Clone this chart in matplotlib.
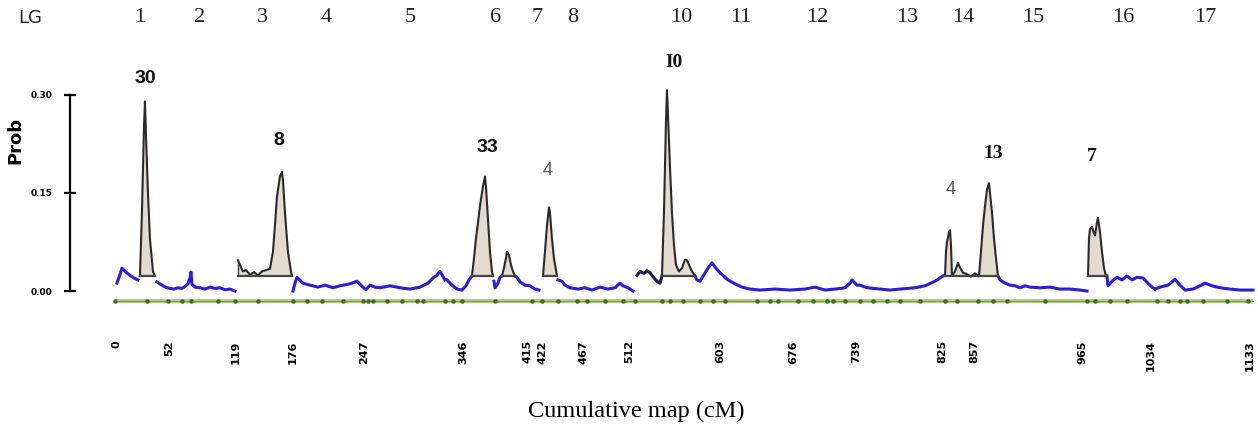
import numpy as np
import matplotlib.pyplot as plt
import matplotlib.transforms as mtransforms

# linkage group labels along the top (centre of each group, cM)
lg_names = ["1", "2", "3", "4", "5", "6", "7", "8", "10", "11", "12", "13", "14", "15", "16", "17"]
lg_cm = [23, 83, 145, 209, 293, 379, 420, 456, 564, 624, 700, 790, 846, 916, 1006, 1088]

# cumulative map tick labels
map_ticks = [0, 52, 119, 176, 247, 346, 415, 422, 467, 512, 603, 676, 739, 825, 857, 965, 1034, 1133]

# marker positions on the map line
markers_cm = [-2, 30, 51, 65, 74, 101, 118, 141, 176, 190, 205, 226, 246, 251, 256, 270, 285,
              300, 306, 328, 336, 345, 378, 415, 425, 441, 460, 470, 488, 506, 518, 545, 553,
              566, 583, 596, 608, 640, 653, 661, 681, 696, 710, 716, 728, 743, 756, 770, 783,
              803, 828, 840, 861, 876, 890, 928, 970, 978, 993, 1010, 1040, 1051, 1063, 1070,
              1086, 1110, 1131]

# background probability profile (blue), one stretch per piece
blue_x = [
    [0, 3, 5, 9, 13, 17, 21],
    [40, 43, 46, 50, 53, 57, 61, 65, 68, 71, 73, 74, 75, 78, 83, 88, 93, 98, 103, 108, 113, 118],
    [176, 178, 180, 186, 193, 201, 208, 216, 223, 233, 240, 246, 249, 253, 258, 263, 273, 283,
     293, 303, 311, 316, 320, 323, 325, 328],
    [330, 335, 340, 345, 349, 352, 355],
    [377, 378, 381, 383, 385],
    [398, 400, 403, 408, 413, 418, 422],
    [441, 445, 448, 453, 461, 468, 475, 483, 491, 498, 503, 506, 511, 516],
    [578, 580, 583, 587, 591, 595, 599, 603, 606, 608],
    [608, 611, 618, 625, 633, 643, 658, 673, 688, 698, 708, 718, 728, 733, 735, 740, 743, 750,
     763, 773, 783, 798, 808, 818, 823, 826],
    [881, 883, 888, 893, 898, 903, 908, 913, 923, 933, 943, 953, 963, 970],
    [990, 991, 995, 1000, 1005, 1010, 1015, 1020, 1026, 1031, 1035, 1038],
    [1038, 1043, 1051, 1058, 1063, 1068, 1076, 1083, 1088, 1095, 1103, 1113, 1123, 1136],
]
blue_y = [
    [0.012, 0.025, 0.035, 0.029, 0.024, 0.020, 0.017],
    [0.014, 0.011, 0.008, 0.005, 0.004, 0.003, 0.005, 0.004, 0.007, 0.011, 0.020, 0.029, 0.010,
     0.006, 0.005, 0.003, 0.006, 0.004, 0.005, 0.002, 0.003, 0.0],
    [0.0, 0.012, 0.021, 0.012, 0.009, 0.006, 0.009, 0.005, 0.008, 0.011, 0.015, 0.006, 0.002,
     0.009, 0.006, 0.005, 0.008, 0.005, 0.003, 0.006, 0.012, 0.020, 0.024, 0.030, 0.025, 0.017],
    [0.017, 0.009, 0.003, 0.0015, 0.008, 0.017, 0.023],
    [0.015, 0.005, 0.012, 0.021, 0.023],
    [0.023, 0.021, 0.014, 0.009, 0.008, 0.003, 0.0015],
    [0.017, 0.015, 0.009, 0.005, 0.003, 0.005, 0.0015, 0.006, 0.003, 0.005, 0.012, 0.008, 0.005, 0.0],
    [0.023, 0.017, 0.015, 0.025, 0.035, 0.043, 0.035, 0.028, 0.024, 0.021],
    [0.021, 0.017, 0.011, 0.006, 0.003, 0.0015, 0.003, 0.0015, 0.003, 0.006, 0.0015, 0.003,
     0.005, 0.012, 0.017, 0.009, 0.009, 0.005, 0.003, 0.0015, 0.003, 0.005, 0.008, 0.015,
     0.020, 0.023],
    [0.023, 0.017, 0.012, 0.009, 0.008, 0.005, 0.008, 0.006, 0.005, 0.006, 0.003, 0.003, 0.0015, 0.0],
    [0.023, 0.008, 0.015, 0.021, 0.017, 0.023, 0.017, 0.021, 0.020, 0.012, 0.006, 0.003],
    [0.003, 0.006, 0.009, 0.018, 0.009, 0.0015, 0.003, 0.008, 0.012, 0.008, 0.005, 0.003,
     0.0015, 0.0015],
]

# dark unfilled stretch at the start of LG10
dark_x = [520, 523, 527, 530, 533, 536, 540, 543, 545]
dark_y = [0.024, 0.030, 0.027, 0.031, 0.028, 0.022, 0.015, 0.012, 0.023]

# significant regions (shaded peaks)
peak_x = [
    [23, 25, 27, 28, 29, 31, 33, 36, 38],
    [121, 123, 126, 129, 133, 137, 141, 145, 149, 153, 156, 158, 160, 163, 165, 166, 168, 171, 174, 175],
    [355, 357, 359, 361, 363, 366, 368, 369, 371, 373, 375, 376],
    [385, 387, 389, 390, 392, 394, 396, 398],
    [426, 428, 430, 432, 433, 435, 437, 440],
    [545, 547, 549, 550, 551, 553, 555, 557, 559, 562, 565, 568, 570, 572, 575, 578],
    [828, 829, 830, 832, 833, 834, 835, 838, 841, 843, 846, 850, 854, 858, 861],
    [862, 864, 866, 868, 870, 872, 873, 875, 877, 879, 881],
    [971, 972, 973, 975, 977, 978, 980, 981, 983, 985, 987, 989],
]
peak_y = [
    [0.023, 0.12, 0.25, 0.29, 0.24, 0.15, 0.08, 0.03, 0.023],
    [0.047, 0.040, 0.030, 0.032, 0.025, 0.029, 0.024, 0.030, 0.032, 0.034, 0.06, 0.10, 0.144,
     0.175, 0.182, 0.17, 0.12, 0.06, 0.03, 0.023],
    [0.023, 0.05, 0.08, 0.104, 0.13, 0.16, 0.175, 0.16, 0.11, 0.06, 0.03, 0.023],
    [0.023, 0.035, 0.05, 0.06, 0.055, 0.04, 0.03, 0.023],
    [0.023, 0.06, 0.10, 0.128, 0.12, 0.08, 0.05, 0.023],
    [0.023, 0.12, 0.26, 0.307, 0.27, 0.19, 0.12, 0.07, 0.04, 0.03, 0.035, 0.048, 0.047, 0.04,
     0.03, 0.023],
    [0.023, 0.06, 0.075, 0.09, 0.093, 0.07, 0.023, 0.03, 0.043, 0.036, 0.028, 0.026, 0.022,
     0.027, 0.023],
    [0.023, 0.06, 0.10, 0.13, 0.155, 0.165, 0.15, 0.12, 0.08, 0.05, 0.023],
    [0.023, 0.08, 0.095, 0.098, 0.088, 0.085, 0.105, 0.112, 0.09, 0.06, 0.035, 0.023],
]
peak_base = 0.023

# numbers written over the peaks
note_text = ["30", "8", "33", "4", "I0", "4", "13", "7"]
note_cm = [28, 162, 370, 431, 557, 834, 876, 975]
note_prob = [0.325, 0.23, 0.22, 0.185, 0.35, 0.155, 0.21, 0.205]
note_bold = [True, True, True, False, True, False, True, True]
note_serif = [False, False, False, False, True, False, True, True]

fig = plt.figure(figsize=(12.58, 4.28), dpi=100)
ax = fig.add_axes([0.0556, 0.2864, 0.9444, 0.5150])

ax.set_xlim(-47, 1141)
ax.set_ylim(-0.022, 0.315)

# map line with markers
ax.plot([-2, 1136], [-0.0153, -0.0153], color="#b5cc8a", lw=3, solid_capstyle="butt")
ax.plot([-2, 1136], [-0.0153, -0.0153], color="#7c9a55", lw=0.8)
ax.plot(markers_cm, [-0.0153] * len(markers_cm), ls="none", marker="o", ms=2.2,
        color="#3d6b2a")

for xs, ys in zip(blue_x, blue_y):
    ax.plot(xs, ys, color="#2a1fd2", lw=2.2, solid_joinstyle="round")

ax.plot(dark_x, dark_y, color="#1a1a55", lw=2.2)

for xs, ys in zip(peak_x, peak_y):
    ax.fill_between(xs, peak_base, ys, color="#e4dacd", lw=0)
    ax.plot(xs, ys, color="#2a2a2a", lw=1.5)
    ax.plot([xs[0], xs[-1]], [peak_base, peak_base], color="#444444", lw=1.6)
    ax.plot([xs[0], xs[0]], [peak_base, ys[0]], color="#444444", lw=1.0)
    ax.plot([xs[-1], xs[-1]], [peak_base, ys[-1]], color="#444444", lw=1.0)

for t, xc, yc, b, s in zip(note_text, note_cm, note_prob, note_bold, note_serif):
    ax.text(xc, yc, t, ha="center", va="center",
            fontsize=14 if b else 13,
            fontweight="bold" if b else "normal",
            family="Liberation Serif" if s else "Liberation Sans",
            color="#111111" if b else "#555555")

# axes styling
for side in ["top", "right", "bottom"]:
    ax.spines[side].set_visible(False)
ax.spines["left"].set_bounds(0, 0.30)
ax.spines["left"].set_linewidth(1.6)
ax.set_yticks([0, 0.15, 0.30])
ax.set_yticklabels(["0.00", "0.15", "0.30"], fontsize=6.5, fontweight="bold")
ax.tick_params(axis="y", direction="inout", length=9, width=1.6, pad=8)

ax.set_xticks(map_ticks)
ax.set_xticklabels([str(v) for v in map_ticks], rotation=90, fontsize=8,
                   fontweight="bold", va="top")
ax.tick_params(axis="x", length=0, pad=25)

# the two close labels 415 / 422 are pushed apart a little
labels = ax.get_xticklabels()
nudge = {415: -4, 422: 4}
for lab, v in zip(labels, map_ticks):
    if v in nudge:
        lab.set_transform(lab.get_transform() +
                          mtransforms.ScaledTranslation(nudge[v] / 100, 0, fig.dpi_scale_trans))

fig.text(15 / 1258, 1 - 140 / 428, "Prob", rotation=90, ha="center", va="center",
         fontsize=13, fontweight="bold")
fig.text(636 / 1258, 1 - 411 / 428, "Cumulative map (cM)", ha="center", va="center",
         fontsize=17.5, family="Liberation Serif")

# linkage group header
fig.text(30 / 1258, 1 - 18 / 428, "LG", ha="center", va="center", fontsize=13,
         color="#222222")
for name, c in zip(lg_names, lg_cm):
    xf = (c + 117) / 1258
    fig.text(xf, 1 - 18 / 428, name, ha="center", va="center", fontsize=16,
             family="Liberation Serif", color="#222222")

fig.savefig("out.png", dpi=100)
